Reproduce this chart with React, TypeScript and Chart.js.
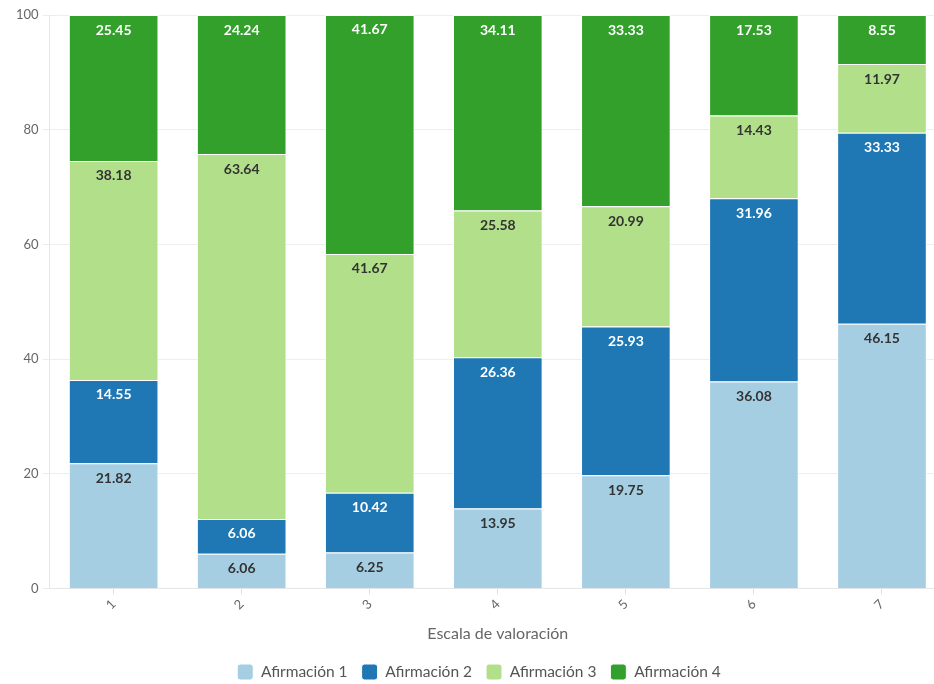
import React, { useEffect, useRef } from "react";
import { Chart, registerables } from "chart.js";

Chart.register(...registerables);

const categories = ["1", "2", "3", "4", "5", "6", "7"];
const seriesNames = ["Afirmación 1", "Afirmación 2", "Afirmación 3", "Afirmación 4"];
const afirmacion1 = [21.82, 6.06, 6.25, 13.95, 19.75, 36.08, 46.15];
const afirmacion2 = [14.55, 6.06, 10.42, 26.36, 25.93, 31.96, 33.33];
const afirmacion3 = [38.18, 63.64, 41.67, 25.58, 20.99, 14.43, 11.97];
const afirmacion4 = [25.45, 24.24, 41.67, 34.11, 33.33, 17.53, 8.55];
const seriesColors = ["#a6cee3", "#1f78b4", "#b2df8a", "#33a02c"];
const labelColors = ["#333333", "#ffffff", "#333333", "#ffffff"];
const yTicks = [0, 20, 40, 60, 80, 100];

const FONT = "Lato, 'Noto Sans', sans-serif";

const segmentLabels = {
  id: "segmentLabels",
  afterDatasetsDraw(chart: any) {
    const ctx = chart.ctx;
    ctx.save();
    ctx.font = `bold 14px ${FONT}`;
    ctx.textAlign = "center";
    ctx.textBaseline = "middle";
    chart.data.datasets.forEach((ds: any, di: number) => {
      const meta = chart.getDatasetMeta(di);
      meta.data.forEach((el: any, i: number) => {
        const v = ds.data[i];
        ctx.fillStyle = labelColors[di];
        ctx.fillText(v.toFixed(2), el.x, el.y + 15);
      });
    });
    ctx.restore();
  },
};

export default function App() {
  const ref = useRef<HTMLCanvasElement>(null);
  useEffect(() => {
    const data = [afirmacion1, afirmacion2, afirmacion3, afirmacion4];
    const chart = new Chart(ref.current!, {
      type: "bar",
      data: {
        labels: categories,
        datasets: seriesNames.map((name, i) => ({
          label: name,
          data: data[i],
          backgroundColor: seriesColors[i],
          borderColor: "#ffffff",
          borderWidth: 1,
          barPercentage: 0.7,
          categoryPercentage: 1,
        })),
      },
      options: {
        animation: false,
        responsive: false,
        maintainAspectRatio: false,
        layout: { padding: { top: 15, left: 12, right: 2, bottom: -6 } },
        plugins: {
          legend: {
            position: "bottom",
            labels: {
              boxWidth: 16,
              boxHeight: 16,
              padding: 14,
              color: "#555",
              font: { family: FONT, size: 15.5 },
              useBorderRadius: true,
              borderRadius: 3,
            } as any,
          },
          tooltip: { enabled: false },
        },
        scales: {
          x: {
            stacked: true,
            offset: true,
            grid: { display: true, drawOnChartArea: false, offset: false, color: "#dddddd", tickLength: 6 },
            border: { display: true, color: "#e6e6e6" },
            ticks: { color: "#666", font: { family: FONT, size: 13 }, minRotation: 45, maxRotation: 45, padding: 2 },
            title: { display: true, text: "Escala de valoración", color: "#666", font: { family: FONT, size: 16 }, padding: { top: 9, bottom: 7 } },
          },
          y: {
            stacked: true,
            min: 0,
            max: 100,
            afterBuildTicks: (axis: any) => {
              axis.ticks = yTicks.map((v) => ({ value: v }));
            },
            grid: { color: "#eeeeee", tickLength: 7 },
            border: { display: true, color: "#e6e6e6" },
            ticks: { color: "#666", font: { family: FONT, size: 13 }, padding: 4 },
          },
        },
      },
      plugins: [segmentLabels],
    });
    return () => chart.destroy();
  }, []);
  return (
    <div style={{ position: "absolute", left: 0, top: 0, width: 934, height: 684, overflow: "hidden", background: "#fff" }}>
      <canvas ref={ref} width={948} height={684} style={{ display: "block" }} />
    </div>
  );
}
